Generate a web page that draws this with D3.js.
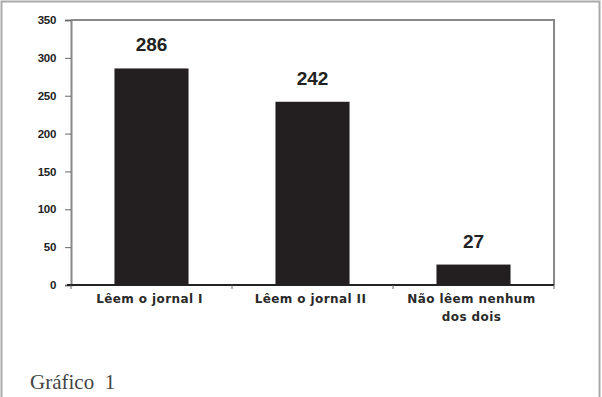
<!DOCTYPE html>
<html><head><meta charset="utf-8">
<script src="https://cdn.jsdelivr.net/npm/d3@7"></script>
<style>body{margin:0;background:#fff}svg{display:block}</style>
</head><body>
<script>
const categories = [["Lêem o jornal I"], ["Lêem o jornal II"], ["Não lêem nenhum", "dos dois"]];
const values = [286, 242, 27];
const yTicks = [0, 50, 100, 150, 200, 250, 300, 350];
const caption = "Gráfico  1";

const W = 602, H = 397;
const m = {left: 71, right: 48, top: 20, bottom: 112};
const svg = d3.select("body").append("svg").attr("width", W).attr("height", H);

// outer frame
svg.append("path").attr("d", `M1.5,${H} V1.5 H599.5 V${H}`).attr("fill", "none").attr("stroke", "#aaa").attr("stroke-width", 2);

const x = d3.scaleBand().domain(d3.range(values.length)).range([m.left, W - m.right]).paddingInner(0.54).paddingOuter(0.27);
const y = d3.scaleLinear().domain([0, 350]).range([H - m.bottom, m.top]);

// plot frame top & right
svg.append("path").attr("d", `M${m.left},${y(350)} H${W - m.right} V${y(0)}`).attr("fill", "none").attr("stroke", "#888").attr("stroke-width", 2);

// bars
svg.selectAll("rect.bar").data(values).join("rect").attr("class", "bar")
  .attr("x", (d, i) => x(i)).attr("width", x.bandwidth())
  .attr("y", d => y(d)).attr("height", d => y(0) - y(d))
  .attr("fill", "#231f20");

// value labels
svg.selectAll("text.val").data(values).join("text").attr("class", "val")
  .attr("x", (d, i) => x(i) + x.bandwidth() / 2).attr("y", d => y(d) - 17)
  .attr("text-anchor", "middle").attr("font-family", "Liberation Sans, Arial, sans-serif")
  .attr("font-weight", "bold").attr("font-size", 19).attr("fill", "#222").text(d => d);

// y axis
const ya = svg.append("g").attr("transform", `translate(${m.left},0)`)
  .call(d3.axisLeft(y).tickValues(yTicks).tickSize(6).tickPadding(9));
ya.select(".domain").attr("stroke", "#888").attr("stroke-width", 2);
ya.selectAll(".tick line").attr("stroke", "#666");
ya.selectAll("text").attr("font-family", "Liberation Sans, Arial, sans-serif").attr("font-size", 11.5).attr("fill", "#222").attr("font-weight", "bold").attr("letter-spacing", "-0.3");

// x axis baseline
svg.append("line").attr("x1", m.left - 4).attr("x2", W - m.right).attr("y1", y(0)).attr("y2", y(0)).attr("stroke", "#222").attr("stroke-width", 2);
const bounds = d3.range(values.length + 1).map(i => m.left + i * (W - m.left - m.right) / values.length);
svg.selectAll("line.xt").data(bounds).join("line").attr("class", "xt")
  .attr("x1", d => d).attr("x2", d => d).attr("y1", y(0)).attr("y2", y(0) + 4).attr("stroke", "#666");

// category labels
const cl = svg.selectAll("text.cat").data(categories).join("text").attr("class", "cat")
  .attr("x", (d, i) => x(i) + x.bandwidth() / 2 - 2).attr("y", y(0) + 18)
  .attr("text-anchor", "middle").attr("font-family", "DejaVu Sans, Verdana, sans-serif")
  .attr("font-weight", "bold").attr("font-size", 12).attr("letter-spacing", "0.4").attr("fill", "#2a2a2a");
cl.selectAll("tspan").data(d => d).join("tspan")
  .attr("x", function () { return d3.select(this.parentNode).attr("x"); })
  .attr("dy", (d, i) => i === 0 ? 0 : 18).text(d => d);

// caption
svg.append("text").attr("x", 30).attr("y", 389).attr("font-family", "Liberation Serif, Times New Roman, serif")
  .attr("font-size", 21).attr("fill", "#444").style("white-space", "pre").text(caption);
</script>
</body></html>
